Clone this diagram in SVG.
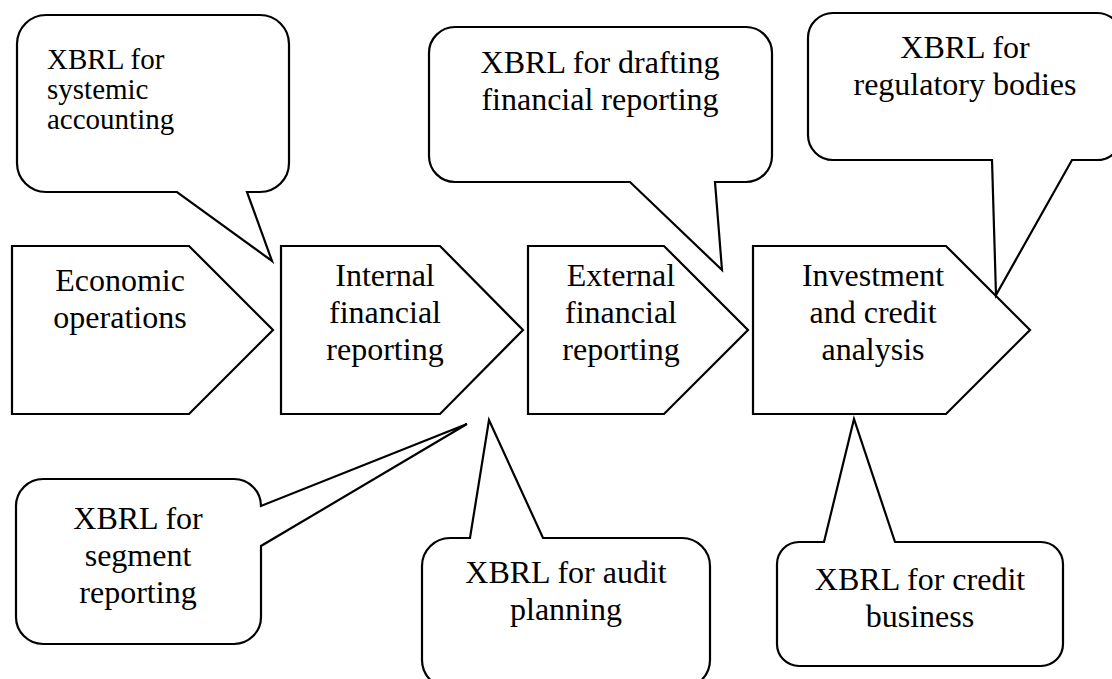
<svg xmlns="http://www.w3.org/2000/svg" width="1112" height="679" viewBox="0 0 1112 679">
  <style>
    .shape { fill: #ffffff; stroke: #000000; stroke-width: 2.2; stroke-linejoin: miter; }
    .t { font-family: "Liberation Serif", "Times New Roman", serif; font-size: 32px; fill: #000000; text-anchor: middle; }
    .small { font-size: 29px; text-anchor: start; }
  </style>
  <rect width="1112" height="679" fill="#ffffff"/>

  <!-- process chain (home-plate shapes) -->
  <g id="economic-operations">
    <path class="shape" d="M12,246 H189 L273,330 L189,414 H12 Z"/>
    <text class="t" x="120" y="291">Economic</text>
    <text class="t" x="120" y="328">operations</text>
  </g>
  <g id="internal-reporting">
    <path class="shape" d="M281,246 H440 L523,330 L440,414 H281 Z"/>
    <text class="t" x="385" y="286">Internal</text>
    <text class="t" x="385" y="323">financial</text>
    <text class="t" x="385" y="360">reporting</text>
  </g>
  <g id="external-reporting">
    <path class="shape" d="M528,246 H664 L748,330 L664,414 H528 Z"/>
    <text class="t" x="621" y="286">External</text>
    <text class="t" x="621" y="323">financial</text>
    <text class="t" x="621" y="360">reporting</text>
  </g>
  <g id="investment-analysis">
    <path class="shape" d="M753,246 H946 L1030,330 L946,414 H753 Z"/>
    <text class="t" x="873" y="286">Investment</text>
    <text class="t" x="873" y="323">and credit</text>
    <text class="t" x="873" y="360">analysis</text>
  </g>

  <!-- speech-bubble callouts with wedge pointers -->
  <g id="callout-systemic-accounting">
    <path class="shape" d="M46,15 H260 A29,29 0 0 1 289,44 V163 A29,29 0 0 1 260,192 H247 L272,261 L177,192 H46 A29,29 0 0 1 17,163 V44 A29,29 0 0 1 46,15 Z"/>
    <text class="t small" x="47" y="69">XBRL for</text>
    <text class="t small" x="47" y="99">systemic</text>
    <text class="t small" x="47" y="129">accounting</text>
  </g>
  <g id="callout-drafting">
    <path class="shape" d="M455,27 H746 A26,26 0 0 1 772,53 V156 A26,26 0 0 1 746,182 H715 L722,270 L630,182 H455 A26,26 0 0 1 429,156 V53 A26,26 0 0 1 455,27 Z"/>
    <text class="t" x="600" y="73">XBRL for drafting</text>
    <text class="t" x="600" y="110">financial reporting</text>
  </g>
  <g id="callout-regulatory">
    <path class="shape" d="M833,13 H1097 A25,25 0 0 1 1122,38 V135 A25,25 0 0 1 1097,160 H1072 L996,295 L992,160 H833 A25,25 0 0 1 808,135 V38 A25,25 0 0 1 833,13 Z"/>
    <text class="t" x="965" y="58">XBRL for</text>
    <text class="t" x="965" y="95">regulatory bodies</text>
  </g>
  <g id="callout-segment">
    <path class="shape" d="M43,479 H234 A27,27 0 0 1 261,506 L467,424 L261,546 V617 A27,27 0 0 1 234,644 H43 A27,27 0 0 1 16,617 V506 A27,27 0 0 1 43,479 Z"/>
    <text class="t" x="138" y="529">XBRL for</text>
    <text class="t" x="138" y="566">segment</text>
    <text class="t" x="138" y="603">reporting</text>
  </g>
  <g id="callout-audit">
    <path class="shape" d="M450,538 H470 L489,420 L543,538 H682 A28,28 0 0 1 710,566 V660 A28,28 0 0 1 682,688 H450 A28,28 0 0 1 422,660 V566 A28,28 0 0 1 450,538 Z"/>
    <text class="t" x="566" y="583">XBRL for audit</text>
    <text class="t" x="566" y="620">planning</text>
  </g>
  <g id="callout-credit">
    <path class="shape" d="M799,542 H824 L854,419 L895,542 H1041 A22,22 0 0 1 1063,564 V644 A22,22 0 0 1 1041,666 H799 A22,22 0 0 1 777,644 V564 A22,22 0 0 1 799,542 Z"/>
    <text class="t" x="920" y="590">XBRL for credit</text>
    <text class="t" x="920" y="627">business</text>
  </g>
</svg>
